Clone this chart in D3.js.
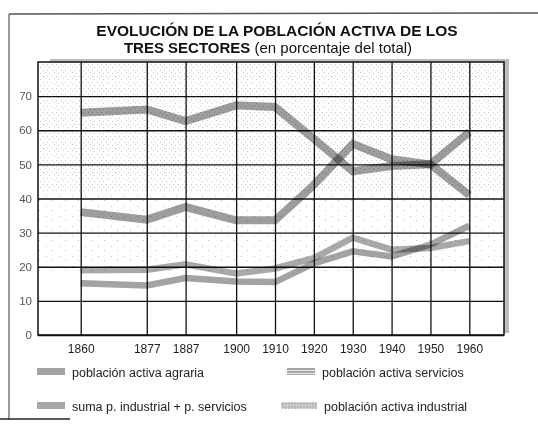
<!DOCTYPE html>
<html>
<head>
<meta charset="utf-8">
<script src="https://cdn.jsdelivr.net/npm/d3@7"></script>
<style>
  body { margin: 0; background: #fff; }
  svg { display: block; font-family: "Liberation Sans", Arial, Helvetica, sans-serif; }
</style>
</head>
<body>
<div id="chart"></div>
<script>
// data (percent of active population)
var years = [1860, 1877, 1887, 1900, 1910, 1920, 1930, 1940, 1950, 1960];
var agraria = [65.1, 66.1, 62.7, 67.3, 66.8, 57.5, 48, 49.5, 50, 41];
var suma = [36, 33.8, 37.5, 33.6, 33.6, 44, 56, 51.5, 50, 59.5];
var servicios = [19, 19.1, 20.7, 18, 19.5, 22.5, 28.5, 25, 25.5, 27.5];
var industrial = [15.2, 14.5, 16.7, 15.7, 15.5, 21, 24.5, 23, 26.5, 32];
var yTicks = [0, 10, 20, 30, 40, 50, 60, 70];
var legendLabels = ["población activa agraria", "población activa servicios",
                    "suma p. industrial + p. servicios", "población activa industrial"];

var svgWidth = 538, svgHeight = 424;

// plot frame
var frame = { left: 38, right: 504, top: 62, bottom: 335 };

var svg = d3.select("#chart").append("svg")
    .attr("width", svgWidth)
    .attr("height", svgHeight);

// patterns for the scanned look
var defs = svg.append("defs");
var stip = defs.append("pattern").attr("id", "stip")
    .attr("width", 9).attr("height", 6).attr("patternUnits", "userSpaceOnUse");
[[0, 0], [4, 1], [7, 4], [2, 4]].forEach(function(p) {
  stip.append("rect").attr("x", p[0]).attr("y", p[1]).attr("width", 1).attr("height", 1).attr("fill", "#8a8a8a");
});
var sparse = defs.append("pattern").attr("id", "sparse")
    .attr("width", 13).attr("height", 10).attr("patternUnits", "userSpaceOnUse");
[[0, 0], [7, 6]].forEach(function(p) {
  sparse.append("rect").attr("x", p[0]).attr("y", p[1]).attr("width", 1).attr("height", 1).attr("fill", "#9a9a9a");
});
var stripes = defs.append("pattern").attr("id", "stripes")
    .attr("width", 4).attr("height", 3).attr("patternUnits", "userSpaceOnUse");
stripes.append("rect").attr("width", 4).attr("height", 3).attr("fill", "#a6a6a6");
stripes.append("rect").attr("y", 2).attr("width", 4).attr("height", 1).attr("fill", "#e6e6e6");
var dots = defs.append("pattern").attr("id", "dots")
    .attr("width", 3).attr("height", 3).attr("patternUnits", "userSpaceOnUse");
dots.append("rect").attr("width", 3).attr("height", 3).attr("fill", "#bdbdbd");
dots.append("rect").attr("width", 1).attr("height", 1).attr("fill", "#efefef");

// outer page border
svg.append("line").attr("x1", 9).attr("y1", 14).attr("x2", 9).attr("y2", 420)
    .attr("stroke", "#9a9a9a").attr("stroke-width", 2);
svg.append("line").attr("x1", 9).attr("y1", 14).attr("x2", 538).attr("y2", 13)
    .attr("stroke", "#555").attr("stroke-width", 1.5);
svg.append("line").attr("x1", 0).attr("y1", 419).attr("x2", 70).attr("y2", 419)
    .attr("stroke", "#222").attr("stroke-width", 1.5);

// title
svg.append("text")
    .attr("x", 277).attr("y", 35.5)
    .attr("text-anchor", "middle")
    .style("font-size", "15.5px").style("font-weight", "bold").attr("fill", "#111")
    .text("EVOLUCIÓN DE LA POBLACIÓN ACTIVA DE LOS");
var title2 = svg.append("text")
    .attr("x", 268).attr("y", 53)
    .attr("text-anchor", "middle")
    .style("font-size", "15px").attr("fill", "#111");
title2.append("tspan").style("font-weight", "bold").text("TRES SECTORES");
title2.append("tspan").text(" (en porcentaje del total)");

// scales
var xScale = d3.scaleLinear()
    .domain([1860, 1960])
    .range([80.7, 469.3]);

var yScale = d3.scaleLinear()
    .domain([0, 80])
    .range([frame.bottom, frame.top]);

// stippled background
svg.append("rect")
    .attr("x", frame.left).attr("y", frame.top)
    .attr("width", frame.right - frame.left).attr("height", yScale(42) - frame.top)
    .attr("fill", "url(#stip)").attr("opacity", 0.45);
svg.append("rect")
    .attr("x", frame.left).attr("y", yScale(42))
    .attr("width", frame.right - frame.left).attr("height", yScale(18) - yScale(42))
    .attr("fill", "url(#sparse)").attr("opacity", 0.6);

// fuzzy grey edges along top and right of the frame
svg.append("rect")
    .attr("x", frame.left + 12).attr("y", frame.top - 3)
    .attr("width", frame.right - frame.left - 8).attr("height", 3)
    .attr("fill", "#bdbdbd");
svg.append("rect")
    .attr("x", frame.right).attr("y", frame.top - 3)
    .attr("width", 5).attr("height", frame.bottom - frame.top + 1)
    .attr("fill", "#bdbdbd");

// grid
var leftAxis = d3.axisLeft(yScale)
    .tickValues(yTicks)
    .tickSize(-(frame.right - frame.left))
    .tickPadding(6);

var gy = svg.append("g")
    .attr("transform", "translate(" + frame.left + ",0)")
    .call(leftAxis);
gy.select(".domain").remove();
gy.selectAll("line").attr("stroke", "#111").attr("stroke-width", 1.3);
gy.selectAll("text")
    .style("font-size", "11.5px").attr("fill", "#555")
    .attr("font-family", "\"Liberation Sans\", Arial, sans-serif");

var bottomAxis = d3.axisBottom(xScale)
    .tickValues(years)
    .tickFormat(d3.format("d"))
    .tickSize(-(frame.bottom - frame.top))
    .tickPadding(9);

var gx = svg.append("g")
    .attr("transform", "translate(0," + frame.bottom + ")")
    .call(bottomAxis);
gx.select(".domain").remove();
gx.selectAll("line").attr("stroke", "#111").attr("stroke-width", 1.3);
gx.selectAll("text")
    .style("font-size", "12px").attr("fill", "#222")
    .attr("font-family", "\"Liberation Sans\", Arial, sans-serif");

// frame
svg.append("rect")
    .attr("x", frame.left).attr("y", frame.top)
    .attr("width", frame.right - frame.left).attr("height", frame.bottom - frame.top)
    .attr("fill", "none").attr("stroke", "#111").attr("stroke-width", 1.5);

// series bands
var line = d3.line()
    .x(function(d) { return xScale(d[0]); })
    .y(function(d) { return yScale(d[1]); });

function zip(vals) {
  return years.map(function(yr, i) { return [yr, vals[i]]; });
}

var series = [
  { vals: agraria, color: "#9d9d9d", width: 8 },
  { vals: suma, color: "#9d9d9d", width: 8 },
  { vals: servicios, color: "#a9a9a9", width: 6.5 },
  { vals: industrial, color: "#a3a3a3", width: 6.5 }
];

svg.append("g").selectAll("path")
    .data(series)
    .enter()
    .append("path")
    .attr("d", function(d) { return line(zip(d.vals)); })
    .attr("fill", "none")
    .attr("stroke", function(d) { return d.color; })
    .attr("stroke-width", function(d) { return d.width; })
    .attr("stroke-linejoin", "miter")
    .style("mix-blend-mode", "multiply");

// legend
var legendPos = [[37, 377], [287, 377], [37, 411], [281, 411]];
var swatchFill = ["#a3a3a3", "url(#stripes)", "#a8a8a8", "url(#dots)"];

var legend = svg.append("g").selectAll("g")
    .data(legendLabels)
    .enter()
    .append("g")
    .attr("transform", function(d, i) { return "translate(" + legendPos[i][0] + "," + legendPos[i][1] + ")"; });

legend.append("rect")
    .attr("x", 0).attr("y", -9)
    .attr("width", function(d, i) { return i === 3 ? 36 : 28; }).attr("height", 7)
    .attr("fill", function(d, i) { return swatchFill[i]; });

legend.append("text")
    .attr("x", function(d, i) { return i === 3 ? 43 : 35; })
    .attr("y", 0)
    .style("font-size", "12.5px").attr("fill", "#222")
    .text(function(d) { return d; });
</script>
</body>
</html>
